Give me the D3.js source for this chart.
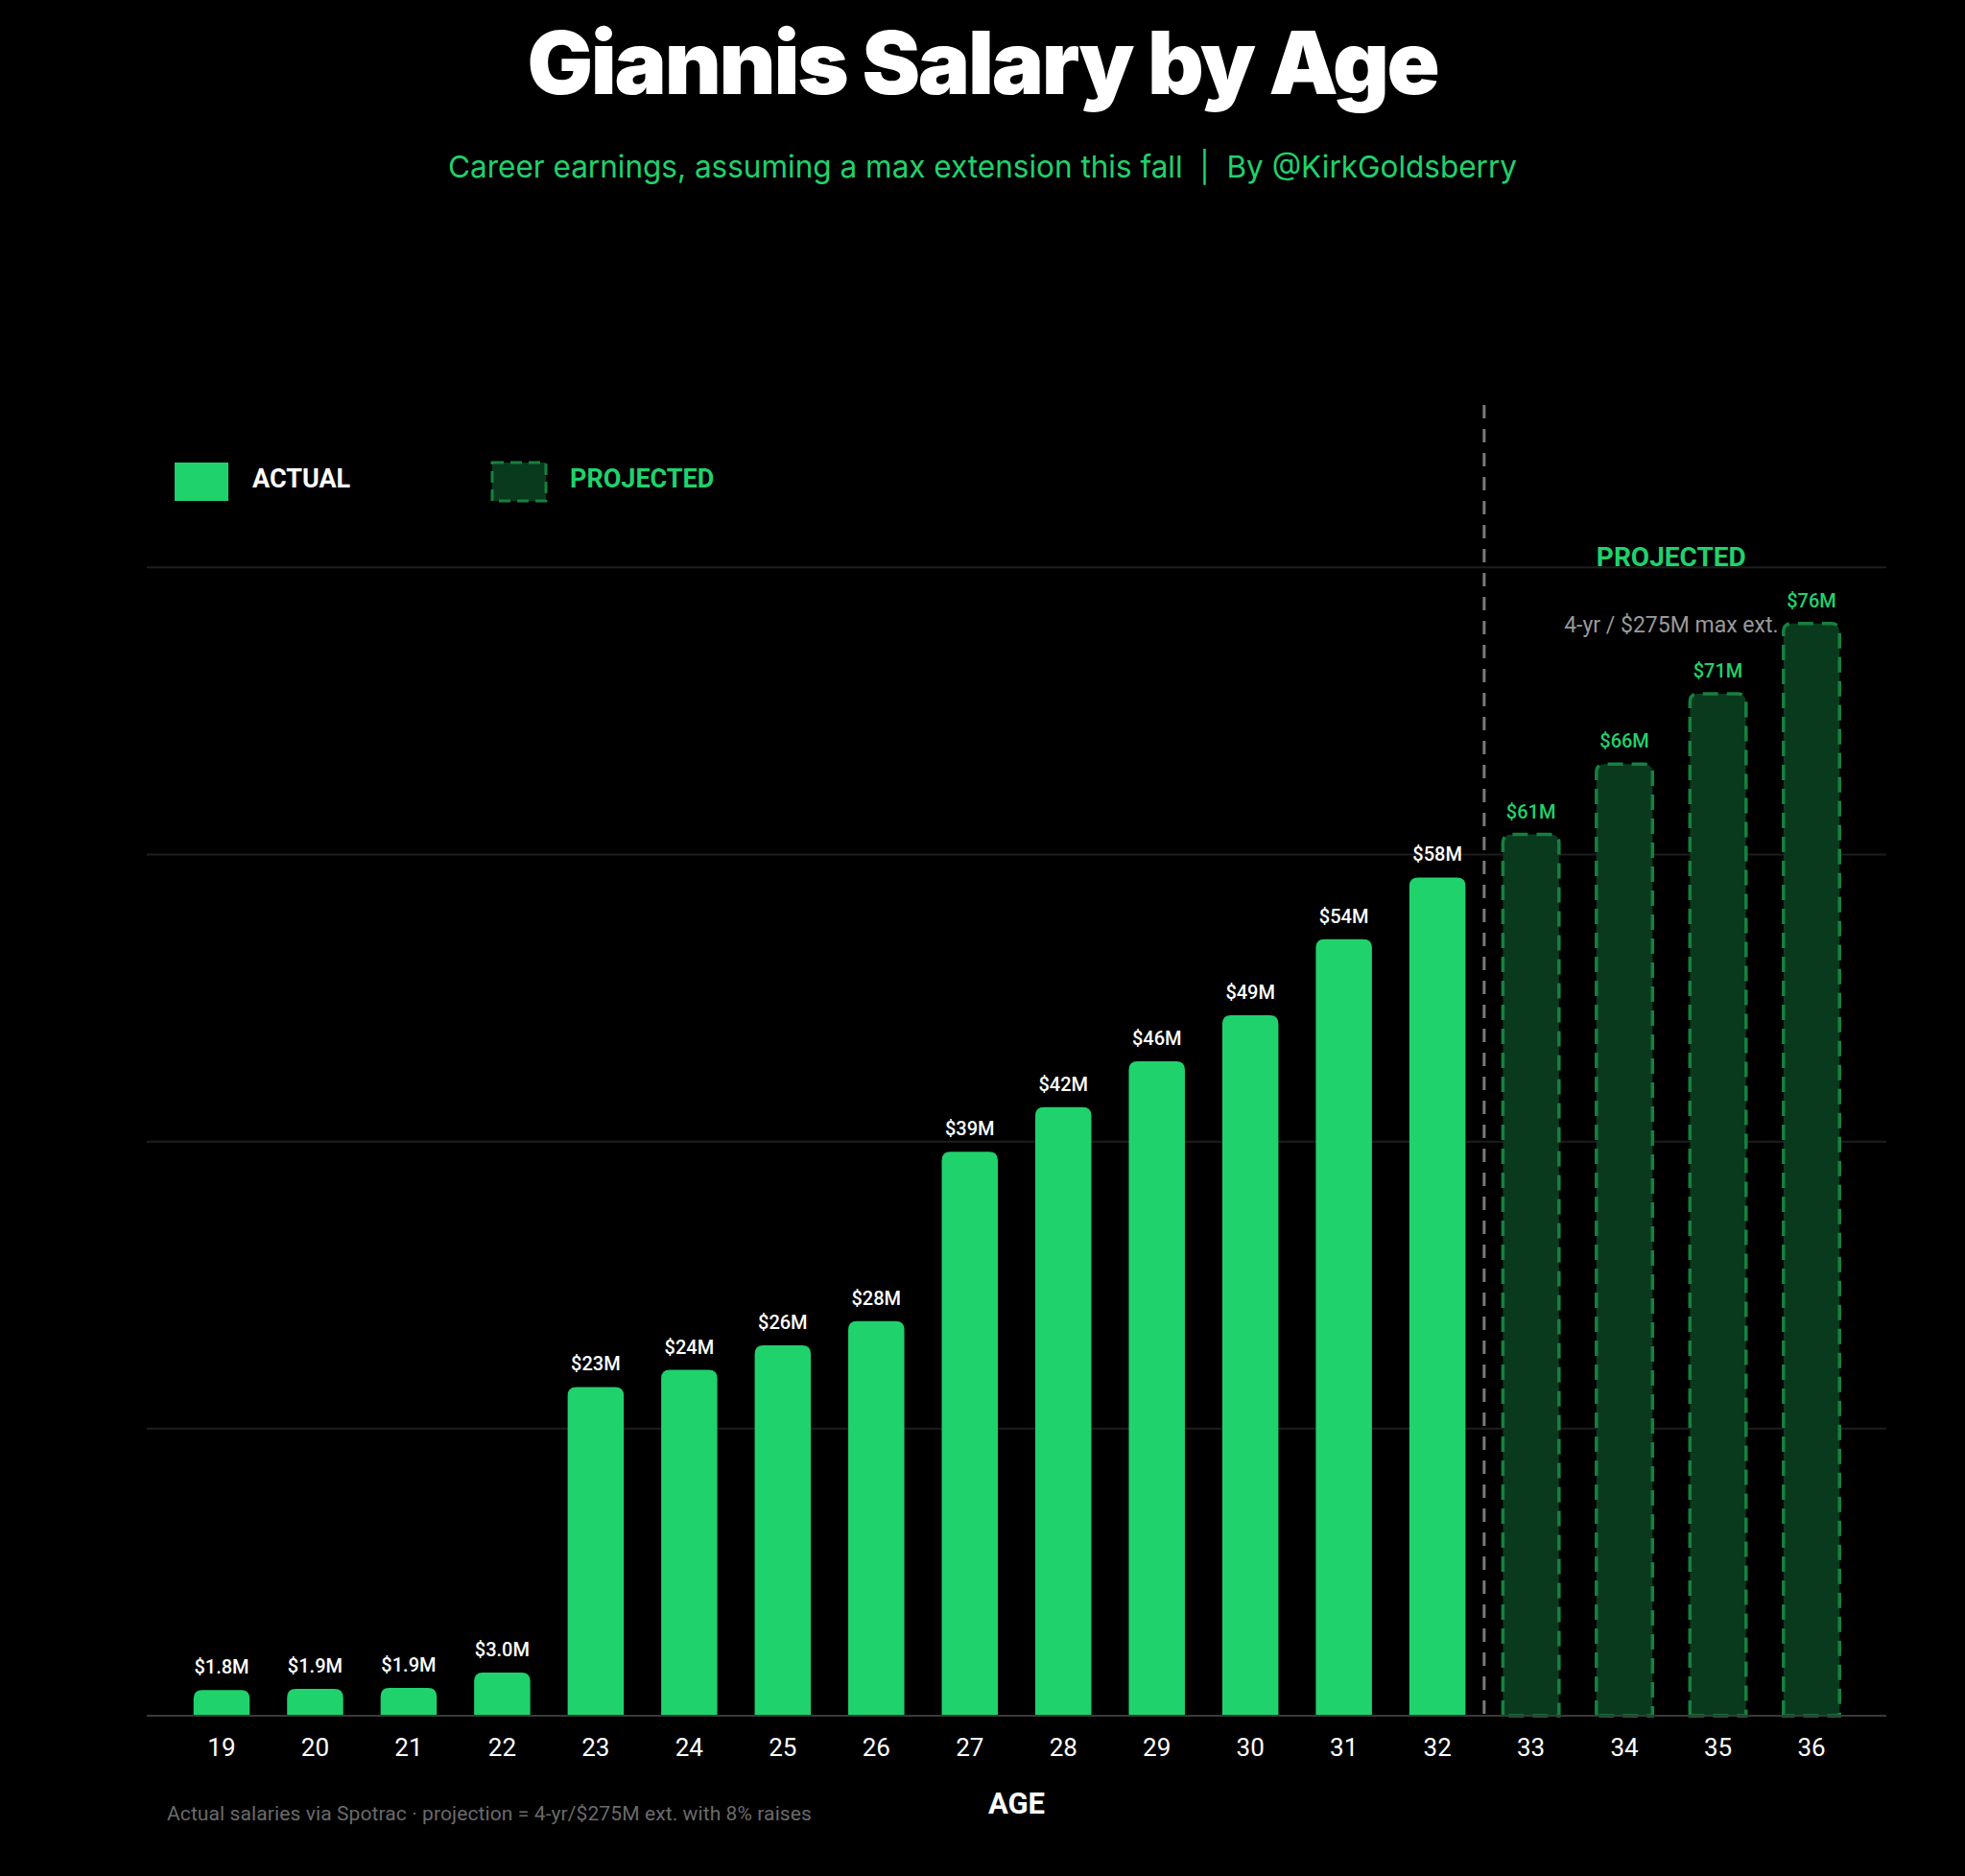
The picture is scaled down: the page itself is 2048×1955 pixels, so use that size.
<!DOCTYPE html>
<html>
<head>
<meta charset="utf-8">
<script src="https://cdn.jsdelivr.net/npm/d3@7/dist/d3.min.js"></script>
<style>
  html, body { margin: 0; padding: 0; background: #000; }
  svg { display: block; }
</style>
</head>
<body>
<svg id="chart" width="2048" height="1955"></svg>
<script>
// ---- data ----
const ages = [19, 20, 21, 22, 23, 24, 25, 26, 27, 28, 29, 30, 31, 32, 33, 34, 35, 36];
const salaries = [1.79, 1.88, 1.94, 3.0, 22.9, 24.1, 25.8, 27.5, 39.3, 42.4, 45.6, 48.8, 54.1, 58.4, 61.4, 66.3, 71.2, 76.1];
const kinds = ["actual","actual","actual","actual","actual","actual","actual","actual","actual","actual","actual","actual","actual","actual","projected","projected","projected","projected"];
const yTicks = [0, 20, 40, 60, 80];
const legendItems = ["ACTUAL", "PROJECTED"];

const data = ages.map((a, i) => ({ age: a, value: salaries[i], kind: kinds[i] }));

const W = 2048, H = 1955;
const margin = { left: 153, right: W - 1966, top: 422, bottom: H - 1788 };
const GREEN = "#20d26c";
const DARK = "#0a3a1e";
const DASH_GREEN = "#17803f";

const svg = d3.select("#chart");
svg.append("rect").attr("width", W).attr("height", H).attr("fill", "#000");

const x = d3.scaleBand()
  .domain(ages)
  .range([margin.left, W - margin.right])
  .paddingInner(0.4)
  .paddingOuter(0.5);

const y = d3.scaleLinear()
  .domain([0, d3.max(salaries) * 1.2])
  .range([H - margin.bottom, margin.top]);

// title & subtitle
svg.append("text")
  .attr("x", 1024).attr("y", 98)
  .attr("text-anchor", "middle")
  .attr("fill", "#fff")
  .style("font-family", "Inter, Roboto, sans-serif")
  .style("font-weight", 900)
  .style("font-size", "91px")
  .style("letter-spacing", "-2.2px")
  .text("Giannis Salary by Age");

svg.append("text")
  .attr("x", 1024).attr("y", 185)
  .attr("text-anchor", "middle")
  .attr("fill", GREEN)
  .style("font-family", "Inter, Roboto, sans-serif")
  .style("font-weight", 400)
  .style("font-size", "31.5px")
  .attr("xml:space", "preserve")
  .text("Career earnings, assuming a max extension this fall  |  By @KirkGoldsberry");

// gridlines
const grid = svg.append("g");
grid.selectAll("line")
  .data(yTicks.filter(t => t > 0))
  .join("line")
  .attr("x1", margin.left).attr("x2", W - margin.right)
  .attr("y1", d => y(d)).attr("y2", d => y(d))
  .attr("stroke", "#1e1e1e")
  .attr("stroke-width", 2);

// bar path with rounded top corners
function barPath(d) {
  const x0 = x(d.age), w = x.bandwidth();
  const y0 = y(d.value), y1 = y(0);
  const r = Math.min(9, (y1 - y0));
  return `M${x0},${y1} L${x0},${y0 + r} Q${x0},${y0} ${x0 + r},${y0} L${x0 + w - r},${y0} Q${x0 + w},${y0} ${x0 + w},${y0 + r} L${x0 + w},${y1} Z`;
}

svg.append("g").selectAll("path")
  .data(data)
  .join("path")
  .attr("d", barPath)
  .attr("fill", d => d.kind === "actual" ? GREEN : DARK)
  .attr("stroke", d => d.kind === "actual" ? "none" : DASH_GREEN)
  .attr("stroke-width", 3.5)
  .attr("stroke-dasharray", d => d.kind === "actual" ? null : "16,9");

// baseline
svg.append("line")
  .attr("x1", margin.left).attr("x2", W - margin.right)
  .attr("y1", y(0)).attr("y2", y(0))
  .attr("stroke", "#3a3a3a")
  .attr("stroke-width", 2);

// value labels
svg.append("g").selectAll("text")
  .data(data)
  .join("text")
  .attr("x", d => x(d.age) + x.bandwidth() / 2)
  .attr("y", d => y(d.value) - 17)
  .attr("text-anchor", "middle")
  .attr("fill", d => d.kind === "actual" ? "#fff" : GREEN)
  .style("font-family", "Roboto, sans-serif")
  .style("font-weight", 500)
  .style("font-size", "20px")
  .text(d => d.value < 10 ? `$${d.value.toFixed(1)}M` : `$${Math.round(d.value)}M`);

// divider between actual and projected
const lastActual = ages[kinds.lastIndexOf("actual")];
const firstProj = ages[kinds.indexOf("projected")];
const divX = (x(lastActual) + x.bandwidth() + x(firstProj)) / 2;
svg.append("line")
  .attr("x1", divX).attr("x2", divX)
  .attr("y1", margin.top).attr("y2", y(0))
  .attr("stroke", "#7a7a7a")
  .attr("stroke-width", 3)
  .attr("stroke-dasharray", "14,11");

// x axis
const xAxis = svg.append("g")
  .attr("transform", `translate(0,${y(0)})`)
  .call(d3.axisBottom(x).tickSize(0).tickPadding(0));
xAxis.select(".domain").remove();
xAxis.selectAll("text")
  .attr("y", 42)
  .attr("dy", 0)
  .attr("fill", "#fff")
  .style("font-family", "Roboto, sans-serif")
  .style("font-size", "26px")
  .style("font-weight", 400);

svg.append("text")
  .attr("x", (margin.left + W - margin.right) / 2).attr("y", 1890)
  .attr("text-anchor", "middle")
  .attr("fill", "#fff")
  .style("font-family", "Roboto, sans-serif")
  .style("font-weight", 700)
  .style("font-size", "31px")
  .text("AGE");

// footnote
svg.append("text")
  .attr("x", 174).attr("y", 1897)
  .attr("fill", "#6a6a6a")
  .style("font-family", "Roboto, sans-serif")
  .style("font-size", "21px")
  .style("letter-spacing", "0.1px")
  .text("Actual salaries via Spotrac · projection = 4-yr/$275M ext. with 8% raises");

// projected annotation
const projAges = ages.filter((a, i) => kinds[i] === "projected");
const projCenter = (x(projAges[0]) + x(projAges[projAges.length - 1]) + x.bandwidth()) / 2;
svg.append("text")
  .attr("x", projCenter).attr("y", 590)
  .attr("text-anchor", "middle")
  .attr("fill", GREEN)
  .style("font-family", "Roboto, sans-serif")
  .style("font-weight", 700)
  .style("font-size", "28px")
  .text("PROJECTED");
svg.append("text")
  .attr("x", projCenter).attr("y", 659)
  .attr("text-anchor", "middle")
  .attr("fill", "#9a9a9a")
  .style("font-family", "Roboto, sans-serif")
  .style("font-size", "23px")
  .text("4-yr / $275M max ext.");

// legend
const legend = svg.append("g");
const legX = [182, 513];
legendItems.forEach((lab, i) => {
  const g = legend.append("g").attr("transform", `translate(${legX[i]},482)`);
  g.append("rect")
    .attr("width", 56).attr("height", 40)
    .attr("fill", i === 0 ? GREEN : DARK)
    .attr("stroke", i === 0 ? "none" : DASH_GREEN)
    .attr("stroke-width", 3)
    .attr("stroke-dasharray", i === 0 ? null : "12,7");
  g.append("text")
    .attr("x", 81).attr("y", 26)
    .attr("fill", i === 0 ? "#fff" : GREEN)
    .style("font-family", "Roboto, sans-serif")
    .style("font-weight", 700)
    .style("font-size", "27px")
    .text(lab);
});
</script>
</body>
</html>
